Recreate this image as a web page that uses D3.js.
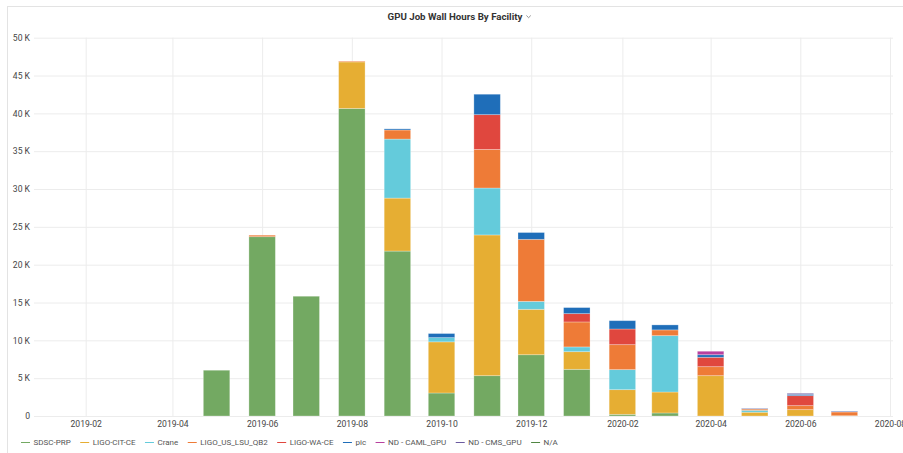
<!DOCTYPE html>
<html lang="en">
<head>
    <meta charset="UTF-8">
    <title>GPU Job Wall Hours By Facility</title>
    <script src="https://d3js.org/d3.v7.min.js"></script>
    <style>
        body {
            margin: 0;
            background: #fff;
            font-family: Roboto, "Noto Sans", sans-serif;
        }
        svg {
            display: block;
        }
        .tick text {
            fill: #464646;
        }
    </style>
</head>
<body>
    <svg id="chart" width="903" height="453"></svg>
    <script>
        // months on the x axis (bars centered on first day of month)
        const months = ["2019-05", "2019-06", "2019-07", "2019-08", "2019-09", "2019-10", "2019-11",
            "2019-12", "2020-01", "2020-02", "2020-03", "2020-04", "2020-05", "2020-06", "2020-07"];

        const facilities = ["SDSC-PRP", "LIGO-CIT-CE", "Crane", "LIGO_US_LSU_QB2", "LIGO-WA-CE",
            "pic", "ND - CAML_GPU", "ND - CMS_GPU", "N/A"];

        const colors = ["#73a962", "#e6ae33", "#64cbdb", "#ee7b37", "#e0473e",
            "#1f6eb9", "#b8419f", "#6c5ba0", "#508642"];

        // wall hours, thousands
        const sdscPrp     = [6.05, 23.7, 15.83, 40.65, 21.8, 3.04, 5.33, 8.1, 6.17, 0.22, 0.4, 0, 0, 0, 0];
        const ligoCitCe   = [0, 0, 0, 6.15, 7.0, 6.76, 18.6, 6.0, 2.33, 3.26, 2.77, 5.33, 0.5, 0.84, 0.04];
        const crane       = [0, 0, 0, 0, 7.8, 0.56, 6.2, 1.05, 0.63, 2.65, 7.45, 0, 0.25, 0, 0];
        const ligoLsuQb2  = [0, 0.2, 0, 0.1, 1.2, 0, 5.1, 8.2, 3.3, 3.3, 0.76, 1.19, 0.17, 0.53, 0.49];
        const ligoWaCe    = [0, 0, 0, 0, 0, 0, 4.6, 0, 1.1, 2.07, 0, 1.24, 0, 1.32, 0];
        const pic         = [0, 0, 0, 0, 0.15, 0.54, 2.7, 0.9, 0.8, 1.1, 0.66, 0.34, 0.05, 0.18, 0.08];
        const ndCamlGpu   = [0, 0, 0, 0, 0, 0, 0, 0, 0, 0, 0, 0.46, 0, 0, 0];
        const ndCmsGpu    = [0, 0, 0, 0, 0, 0, 0, 0, 0, 0, 0, 0, 0.05, 0.13, 0.05];
        const naHours     = [0, 0, 0, 0, 0, 0, 0, 0, 0, 0, 0, 0, 0, 0, 0];

        const series = [sdscPrp, ligoCitCe, crane, ligoLsuQb2, ligoWaCe, pic, ndCamlGpu, ndCmsGpu, naHours];

        const xTicks = ["2019-02", "2019-04", "2019-06", "2019-08", "2019-10", "2019-12",
            "2020-02", "2020-04", "2020-06", "2020-08"];
        const yTicks = [0, 5000, 10000, 15000, 20000, 25000, 30000, 35000, 40000, 45000, 50000];

        const parse = d3.timeParse("%Y-%m");
        const svg = d3.select("#chart");

        // panel frame
        svg.append("rect")
            .attr("x", 7.5).attr("y", 6.5)
            .attr("width", 1000).attr("height", 1000)
            .attr("fill", "#fff")
            .attr("stroke", "#e3e3e3");

        const left = 34, right = 893;

        const x = d3.scaleTime()
            .domain([parse("2019-02"), parse("2020-08")])
            .range([85.7, 890]);

        const y = d3.scaleLinear()
            .domain([0, 50000])
            .range([416, 37.7]);

        // grid + y labels
        const yAxis = svg.append("g")
            .attr("transform", `translate(${left},0)`)
            .call(d3.axisLeft(y)
                .tickValues(yTicks)
                .tickSize(-(right - left))
                .tickPadding(4)
                .tickFormat(d => d === 0 ? "0" : (d / 1000) + " K"));
        yAxis.select(".domain").remove();
        yAxis.selectAll(".tick line").attr("stroke", "#ececec");
        yAxis.selectAll(".tick text")
            .attr("font-size", "8.6px")
            .attr("font-family", "Roboto, sans-serif");

        const xAxis = svg.append("g")
            .attr("transform", "translate(0,416)")
            .call(d3.axisBottom(x)
                .tickValues(xTicks.map(parse))
                .tickSize(-(416 - 37.7))
                .tickPadding(5)
                .tickFormat(d3.timeFormat("%Y-%m")));
        xAxis.select(".domain").remove();
        xAxis.selectAll(".tick line").attr("stroke", "#ececec");
        xAxis.selectAll(".tick text")
            .attr("font-size", "8.6px")
            .attr("font-family", "Roboto, sans-serif");

        // stacked bars
        const table = months.map((m, i) => {
            const row = { date: parse(m) };
            facilities.forEach((f, k) => row[f] = series[k][i] * 1000);
            return row;
        });
        const stacked = d3.stack().keys(facilities)(table);

        const bw = x(d3.timeDay.offset(parse("2019-05"), 18.5)) - x(parse("2019-05"));

        svg.append("g")
            .selectAll("g")
            .data(stacked)
            .join("g")
            .attr("fill", (d, i) => colors[i])
            .selectAll("rect")
            .data(d => d.filter(s => s[1] - s[0] > 0))
            .join("rect")
            .attr("x", d => x(d.data.date) - bw / 2)
            .attr("width", bw)
            .attr("y", d => y(d[1]))
            .attr("height", d => y(d[0]) - y(d[1]))
            .attr("stroke", "#fff")
            .attr("stroke-opacity", 0.35)
            .attr("stroke-width", 0.8);

        // title
        const title = svg.append("text")
            .attr("x", 455)
            .attr("y", 20)
            .attr("text-anchor", "middle")
            .attr("font-size", "9.7px")
            .attr("font-weight", "bold")
            .attr("fill", "#333")
            .text("GPU Job Wall Hours By Facility");
        const tEnd = 455 + title.node().getComputedTextLength() / 2;
        svg.append("path")
            .attr("d", `M${tEnd + 4},${15.5} l2.2,2.2 l2.2,-2.2`)
            .attr("fill", "none")
            .attr("stroke", "#777")
            .attr("stroke-width", 0.8);

        // legend
        const legend = svg.append("g").attr("transform", "translate(21,442.5)");
        let lx = 0;
        facilities.forEach((f, i) => {
            const g = legend.append("g").attr("transform", `translate(${lx},0)`);
            g.append("line")
                .attr("x1", 0).attr("x2", 9)
                .attr("y1", 0).attr("y2", 0)
                .attr("stroke", colors[i])
                .attr("stroke-width", 1);
            const t = g.append("text")
                .attr("x", 12.5)
                .attr("dy", "0.35em")
                .attr("font-size", "8px")
                .attr("fill", "#555")
                .text(f);
            lx += 12.5 + t.node().getComputedTextLength() + 9.5;
        });
    </script>
</body>
</html>
